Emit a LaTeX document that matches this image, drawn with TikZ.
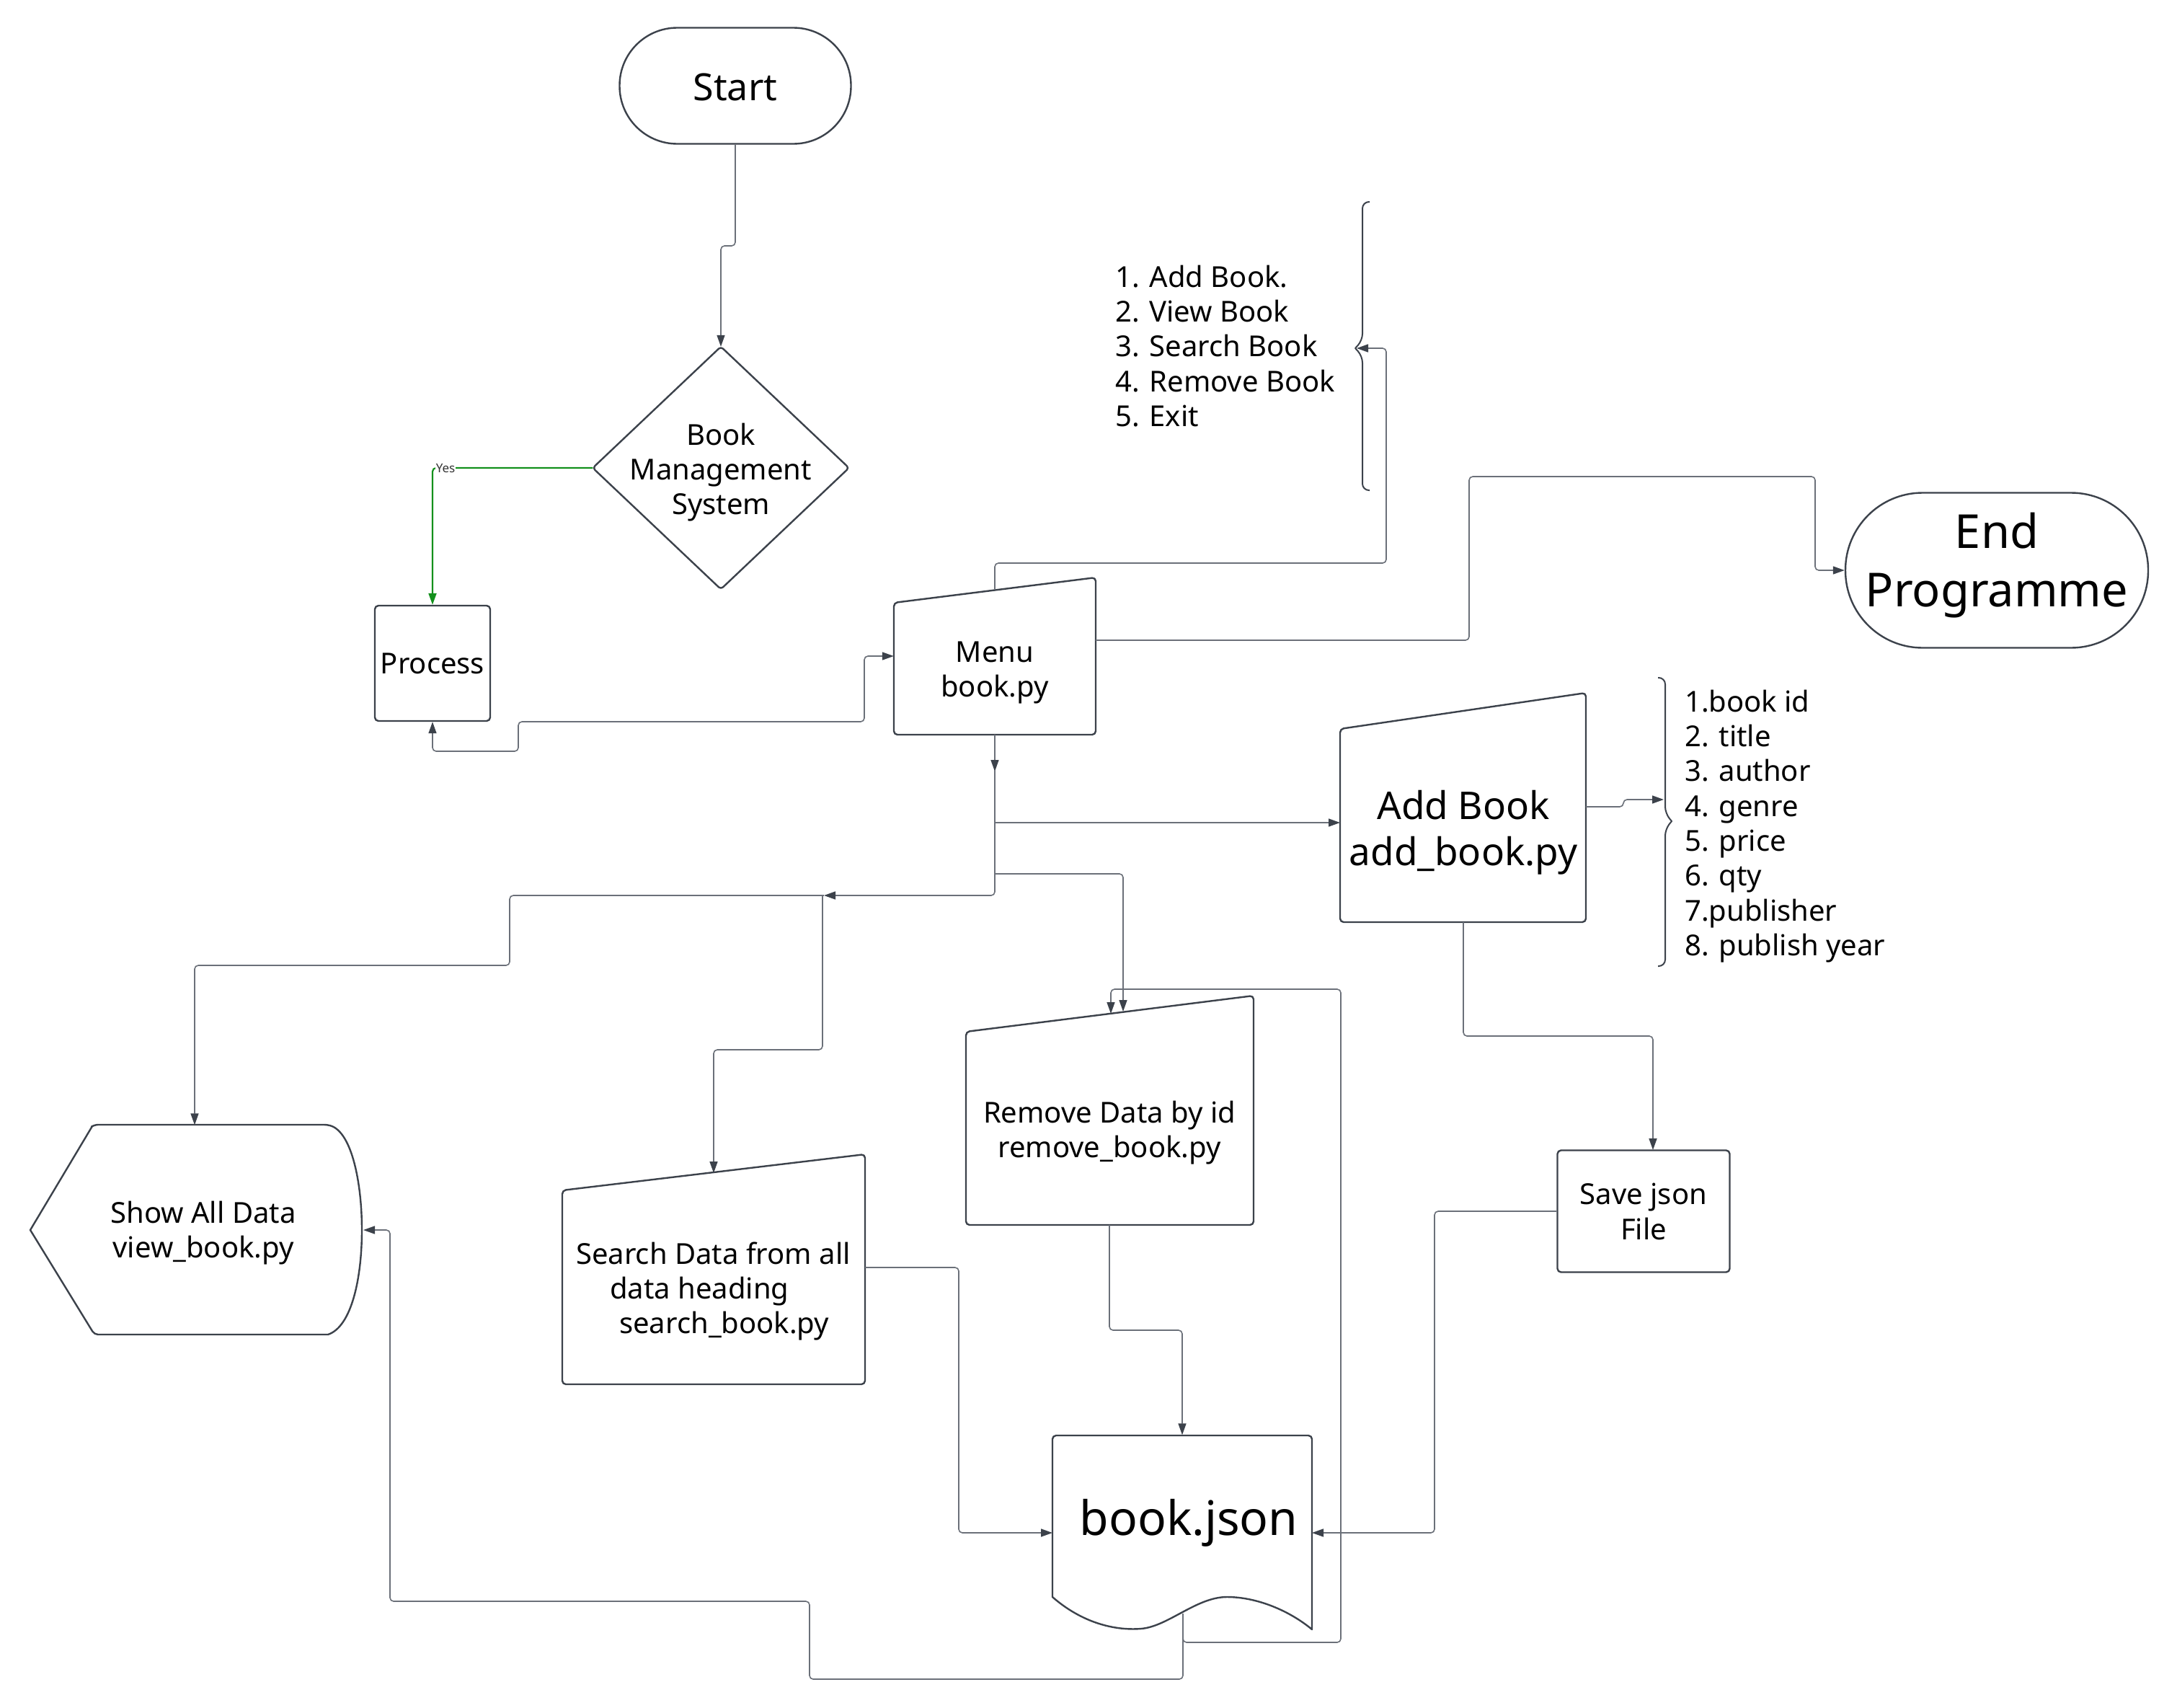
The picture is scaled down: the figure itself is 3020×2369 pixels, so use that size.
\documentclass[tikz,border=0pt]{standalone}
\usepackage{fontspec}
\setmainfont{Noto Sans}
\usetikzlibrary{arrows.meta,calc}
\definecolor{edge}{HTML}{3C424B}
\definecolor{wirec}{HTML}{6B7079}
\definecolor{yesgreen}{HTML}{13901C}
\begin{document}
\begin{tikzpicture}[x=1pt,y=-1pt,
  shapeline/.style={draw=edge,line width=2.4pt,line join=round},
  box/.style={shapeline,rounded corners=5pt,fill=white},
  holder/.style={draw=none,inner sep=0pt},
  txt/.style={align=center,text=black,inner sep=0pt,font=\fontsize{40}{48}\selectfont},
  wire/.style={draw=wirec,line width=1.6pt,rounded corners=5pt},
  tipend/.style={-{Triangle[length=16pt,width=11pt,color=edge]}},
  tipboth/.style={{Triangle[length=16pt,width=11pt,color=edge]}-{Triangle[length=16pt,width=11pt,color=edge]}},
]
\fill[white] (0,0) rectangle (3020,2369);
\useasboundingbox (0,0) rectangle (3020,2369);

% ---------- terminals and boxes ----------
\node[box,rounded corners=80pt,minimum width=321pt,minimum height=161pt,
      txt,font=\fontsize{52}{60}\selectfont] (start) at (1020,119) {};
\node[txt,font=\fontsize{52}{60}\selectfont] (starttxt) at (1020,121) {Start};

\node[holder,minimum width=355pt,minimum height=336pt] (bms) at (1000,649) {};
\draw[shapeline,rounded corners=4pt,fill=white] (bms.north) -- (bms.east) -- (bms.south) -- (bms.west) -- cycle;
\node[txt] (bmstxt) at (1000,655) {Book\\Management\\System};

\node[box,minimum width=160pt,minimum height=160pt,txt] (process) at (600,920) {Process};

% manual-input shapes (slanted top edge)
\node[holder,minimum width=280pt,minimum height=218pt] (menu) at (1380,910) {};
\draw[box] (1240,836) -- (1520,801) -- (1520,1019) -- (1240,1019) -- cycle;
\node[txt] (menutxt) at (1380,933) {Menu\\book.py};

\node[holder,minimum width=341pt,minimum height=318pt] (add) at (2030,1120) {};
\draw[box] (1859,1011) -- (2200,961) -- (2200,1279) -- (1859,1279) -- cycle;
\node[txt,font=\fontsize{53}{64}\selectfont] (addtxt) at (2030,1155) {Add Book\\add\_book.py};

\node[holder,minimum width=399pt,minimum height=318pt] (remove) at (1540,1540) {};
\draw[box] (1340,1431) -- (1739,1381) -- (1739,1699) -- (1340,1699) -- cycle;
\node[txt] (removetxt) at (1539,1571) {Remove Data by id\\remove\_book.py};

\node[holder,minimum width=420pt,minimum height=319pt] (search) at (990,1760) {};
\draw[box] (780,1651) -- (1200,1601) -- (1200,1920) -- (780,1920) -- cycle;
\node[txt,align=left,anchor=west] (searchtxt) at (799,1791)
  {Search Data from all\\\hspace*{47pt}data heading\\\hspace*{60pt}search\_book.py};

% display shape
\node[holder,minimum width=463pt,minimum height=291pt] (show) at (273,1706) {};
\draw[shapeline,fill=white] (42,1706) -- (128,1562) [rounded corners=5pt] -- (131,1560) -- (455,1560)
  [sharp corners] .. controls (488,1572) and (502,1640) .. (502,1706)
  .. controls (502,1772) and (488,1840) .. (455,1851)
  [rounded corners=5pt] -- (131,1851) [sharp corners] -- cycle;
\node[txt] (showtxt) at (282,1710) {Show All Data\\view\_book.py};

\node[box,minimum width=239pt,minimum height=169pt,txt,font=\fontsize{40}{49}\selectfont] (save) at (2280,1680) {Save json\\File};

\node[box,rounded corners=107pt,minimum width=420pt,minimum height=215pt] (end) at (2770,791) {};
\node[txt,font=\fontsize{65}{81}\selectfont] (endtxt) at (2770,784) {End\\Programme};

% document shape
\node[holder,minimum width=360pt,minimum height=269pt] (json) at (1640,2125) {};
\draw[shapeline,fill=white] (1460,2215) [rounded corners=5pt] -- (1460,1991) -- (1820,1991) [sharp corners] -- (1820,2260)
  .. controls (1790,2235) and (1745,2215) .. (1702,2215)
  .. controls (1660,2215) and (1620,2256) .. (1583,2259)
  .. controls (1545,2262) and (1500,2250) .. (1460,2215) -- cycle;
\node[txt,font=\fontsize{66}{72}\selectfont] (jsontxt) at (1649,2112) {book.json};

% ---------- braces and lists ----------
\draw[shapeline,line width=2pt,rounded corners=9pt] (1900,280) -- (1890,280) -- (1890,472) [sharp corners] -- (1880,483)
  [rounded corners=9pt] -- (1890,494) -- (1890,680) -- (1900,680);
\coordinate (menubrace) at (1882,483);
\node[txt,align=left,anchor=west,font=\fontsize{40}{48.3}\selectfont] (menulist) at (1547,480)
  {1. Add Book.\\2. View Book\\3. Search Book\\4. Remove Book\\5. Exit};

\draw[shapeline,line width=2pt,rounded corners=9pt] (2300,940) -- (2310,940) -- (2310,1128) [sharp corners] -- (2319,1139)
  [rounded corners=9pt] -- (2310,1150) -- (2310,1340) -- (2300,1340);
\coordinate (fieldbrace) at (2308,1109);
\node[txt,align=left,anchor=west,font=\fontsize{40}{48.3}\selectfont] (fields) at (2337,1146)
  {1.book id\\2. title\\3. author\\4. genre\\5. price\\6. qty\\7.publisher\\8. publish year};

% ---------- connectors ----------
\draw[wire,tipend] (start.south) -- (1020,341) -- (1000,341) -- (bms.north);

\draw[wire,draw=yesgreen,line width=2.2pt,-{Triangle[length=16pt,width=11pt,color=yesgreen]}]
  (bms.west) -| (process.north);
\node[fill=white,inner sep=1pt,text=black!80,font=\fontsize{17}{17}\bfseries\selectfont] (yes) at (618,650) {Yes};

\draw[wire,tipboth] (process.south) -- (600,1042) -- (719,1042) -- (719,1001) -- (1199,1001) -- (1199,910) -- (menu.west);

\coordinate (menutop) at (1380,818);
\draw[wire,tipend] (menutop) -- (1380,781) -- (1923,781) -- (1923,483) -- (menubrace);

\draw[wire,tipend] (1520,888) -- (2038,888) -- (2038,661) -- (2518,661) -- (2518,791) -- (end.west);

\draw[wire,tipend] (menu.south) -- (1380,1070);
\draw[wire,tipend] (1380,1068) -- (1380,1242) -- (1143,1242);
\draw[wire,tipend] (1380,1141) -- (1859,1141);
\draw[wire,tipend] (1380,1212) -- (1558,1212) -- (1558,1403);
\draw[wire,tipend] (1143,1242) -- (707,1242) -- (707,1339) -- (270,1339) -- (show.north -| 270,0);
\draw[wire,tipend] (1141,1242) -- (1141,1456) -- (990,1456) -- (990,1627);

\draw[wire,tipend] (2030,1279) -- (2030,1437) -- (2293,1437) -- (2293,1595);
\draw[wire,tipend] (2200,1119) -- (2252,1119) -- (2252,1109) -- (fieldbrace);

\draw[wire,tipend] (1539,1699) -- (1539,1845) -- (1640,1845) -- (json.north);
\draw[wire,tipend] (1200,1758) -- (1330,1758) -- (1330,2126) -- (1460,2126);
\draw[wire,tipend] (save.west |- 0,1680) -- (1990,1680) -- (1990,2126) -- (1820,2126);

\coordinate (jsonout) at (1641,2238);
\draw[wire,tipend] (jsonout) -- (1641,2329) -- (1123,2329) -- (1123,2221) -- (541,2221) -- (541,1706) -- (504,1706);
\draw[wire,tipend] (jsonout) -- (1641,2278) -- (1860,2278) -- (1860,1372) -- (1541,1372) -- (1541,1406);
\end{tikzpicture}
\end{document}
